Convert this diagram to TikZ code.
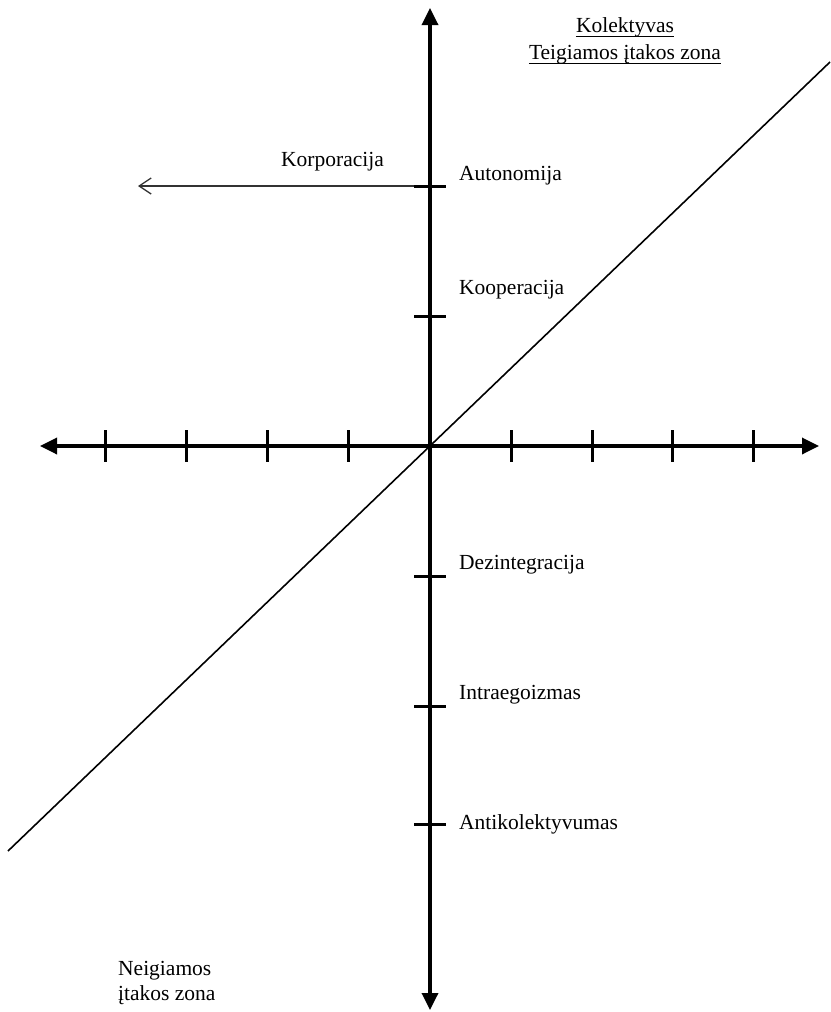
\documentclass[tikz,border=0pt]{standalone}
\usepackage{fontspec}
\setmainfont{Liberation Serif}
\usetikzlibrary{arrows.meta}
\begin{document}
\begin{tikzpicture}[x=1pt,y=-1pt,
  axis/.style={line width=3.4pt,-{Triangle[length=17pt,width=16pt]}},
  tick/.style={line width=3pt},
  lbl/.style={anchor=base west,inner sep=0pt,font=\fontsize{21.5}{25}\selectfont},
  ctr/.style={anchor=base,inner sep=0pt,font=\fontsize{21.5}{25}\selectfont},
  uline/.style={line width=1.4pt}]
\useasboundingbox (0,0) rectangle (830,1012);
% axes
\coordinate (O) at (430,446);
\coordinate (top) at (430,8);
\coordinate (bot) at (430,1010);
\coordinate (left) at (40,446);
\coordinate (right) at (819,446);
\coordinate (dl) at (8,851);
\coordinate (dr) at (830,62);
\coordinate (kend) at (138,186);
\coordinate (ta) at (430,186);
\draw[line width=1.6pt] (dl) -- (dr);
% Korporacija arrow
\draw[line width=1.2pt,draw=black!80,-{Straight Barb[length=12pt,width=16pt,line width=1.3pt]}] (ta) -- (kend);
\draw[axis] (O) -- (top);
\draw[axis] (O) -- (bot);
\draw[axis] (O) -- (left);
\draw[axis] (O) -- (right);
% horizontal ticks
\foreach \x in {105,186,267,348,511,592,672,753}
  \draw[tick] (\x,430) -- (\x,462);
% vertical ticks
\foreach \n/\y in {ta/186,tk/316,td/576,ti/706,tn/824}{
  \coordinate (\n) at (430,\y);
  \draw[tick] ([xshift=-16pt]\n) -- ([xshift=16pt]\n);
}
\node[lbl] (korp) at (281,166) {Korporacija};
% labels
\node[lbl] (auto) at (459,180) {Autonomija};
\node[lbl] (koop) at (459,294) {Kooperacija};
\node[lbl] (dez) at (459,569) {Dezintegracija};
\node[lbl] (intra) at (459,699) {Intraegoizmas};
\node[lbl] (anti) at (459,829) {Antikolektyvumas};
% top right
\node[ctr] (kol) at (625,32) {Kolektyvas};
\node[ctr] (teig) at (625,59) {Teigiamos įtakos zona};
\draw[uline] ([yshift=-4.5pt]kol.base west) -- ([yshift=-4.5pt]kol.base east);
\draw[uline] ([yshift=-4.5pt]teig.base west) -- ([yshift=-4.5pt]teig.base east);
% bottom left
\node[lbl] (neig) at (118,975) {Neigiamos};
\node[lbl] (itak) at (118,1000) {įtakos zona};
\end{tikzpicture}
\end{document}
